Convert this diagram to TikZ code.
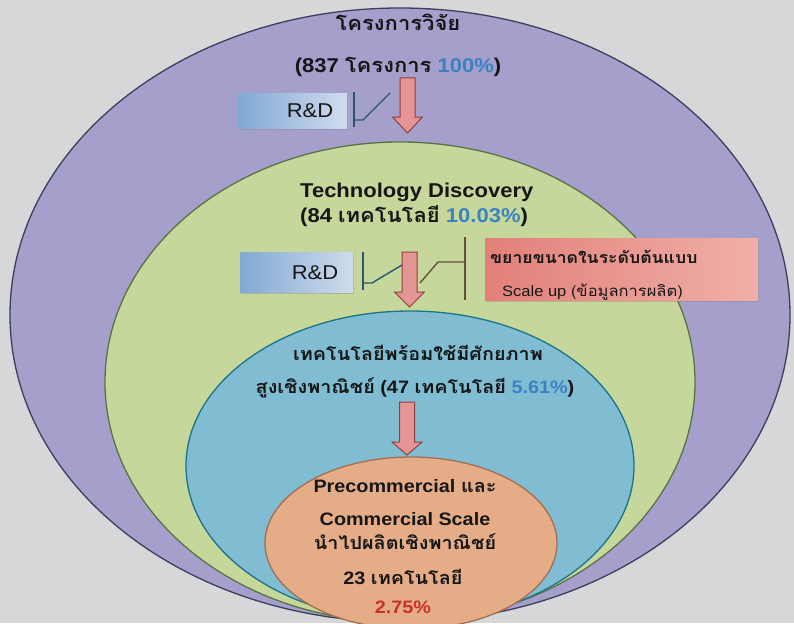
\documentclass[tikz,border=0pt]{standalone}
\usepackage{fontspec}
\setmainfont{Liberation Sans}[FakeStretch=1.1]
\newfontfamily\thaifont{Loma}[Script=Thai,FakeStretch=1.1]
\usetikzlibrary{shapes.geometric,shadows}
\newcommand\thx[1]{{\thaifont #1}}
\definecolor{bg}{RGB}{214,215,217}
\definecolor{purfill}{RGB}{165,159,204}
\definecolor{purline}{RGB}{62,62,92}
\definecolor{grnfill}{RGB}{198,215,155}
\definecolor{grnline}{RGB}{90,115,70}
\definecolor{blufill}{RGB}{128,188,210}
\definecolor{bluline}{RGB}{30,115,135}
\definecolor{orafill}{RGB}{229,172,136}
\definecolor{oraline}{RGB}{165,110,80}
\definecolor{pctblue}{RGB}{60,130,195}
\definecolor{pctred}{RGB}{200,50,40}
\definecolor{arrfill}{RGB}{228,150,150}
\definecolor{arrline}{RGB}{150,60,60}
\definecolor{rdleft}{RGB}{130,168,212}
\definecolor{rdright}{RGB}{208,220,236}
\definecolor{redleft}{RGB}{226,128,122}
\definecolor{redright}{RGB}{240,175,168}
\definecolor{swblue}{RGB}{45,85,115}
\definecolor{swbrown}{RGB}{105,78,60}
\definecolor{txt}{RGB}{22,22,22}
\newcommand\barrow[4]{\draw[blockarr] (#1-7.5,#2) -- (#1+7.5,#2) -- (#1+7.5,#3) -- (#1+15,#3) -- (#1,#4) -- (#1-15,#3) -- (#1-7.5,#3) -- cycle;}
\begin{document}
\begin{tikzpicture}[x=1pt,y=-1pt,
  ring/.style={ellipse, inner sep=0pt, line width=1.3pt},
  lbl/.style={text=txt, inner sep=0pt},
  big/.style={font=\bfseries\fontsize{20}{24}\selectfont},
  mid/.style={font=\bfseries\fontsize{18}{22}\selectfont},
  rdbox/.style={draw=none, left color=rdleft, right color=rdright, anchor=north west,
     inner ysep=0pt, align=right, text=txt, font=\fontsize{20}{24}\selectfont,
     drop shadow={shadow xshift=1pt, shadow yshift=-2pt, opacity=.35}},
  redbox/.style={draw=none, left color=redleft, right color=redright, anchor=north west,
     inner sep=0pt, drop shadow={shadow xshift=1pt, shadow yshift=-2pt, opacity=.35}},
  blockarr/.style={fill=arrfill, draw=arrline, line width=1pt, line join=miter},
  swa/.style={draw=swblue, line width=1.4pt},
  swb/.style={draw=swbrown, line width=1.4pt}]
\useasboundingbox[fill=bg] (0,0) rectangle (794,623);
\clip (0,0) rectangle (794,623);
% nested ellipses
\node[ring, fill=purfill, draw=purline, minimum width=780pt, minimum height=614pt] (lvl1) at (400,315) {};
\node[ring, fill=grnfill, draw=grnline, minimum width=590pt, minimum height=480pt] (lvl2) at (400,382) {};
\node[ring, fill=blufill, draw=bluline, minimum width=448pt, minimum height=310pt] (lvl3) at (410,466) {};
\node[ring, fill=orafill, draw=oraline, minimum width=292pt, minimum height=172pt] (lvl4) at (411,543) {};
% level 1 texts
\node[lbl, big, anchor=base] (t1) at (398,31) {\thx{โครงการวิจัย}};
\node[lbl, big, anchor=base] (t2) at (398,73) {(837 \thx{โครงการ} \textcolor{pctblue}{100\%})};
% R&D 1 and switch
\node[rdbox, minimum width=109pt, minimum height=35pt, text width=81pt, inner xsep=14pt] (rd1) at (238,93) {R\&D};
\coordinate (s1a) at (354,92); \coordinate (s1b) at (354,127);
\coordinate (s1c) at (354,120); \coordinate (s1d) at (363,120); \coordinate (s1e) at (390,93);
\draw[swa] (s1a) -- (s1b);
\draw[swa] (s1c) -- (s1d) -- (s1e);
\barrow{407.5}{78}{117}{133}
% level 2 texts
\node[lbl, big, anchor=base west] (t3) at (300,197) {Technology Discovery};
\node[lbl, big, anchor=base west] (t4) at (300,222) {(84 \thx{เทคโนโลยี} \textcolor{pctblue}{10.03\%})};
% R&D 2 and switches
\node[rdbox, minimum width=113pt, minimum height=40pt, text width=83pt, inner xsep=15pt] (rd2) at (240,252) {R\&D};
\coordinate (s2a) at (363,252); \coordinate (s2b) at (363,290);
\coordinate (s2c) at (363,283); \coordinate (s2d) at (372,283); \coordinate (s2e) at (402,265);
\draw[swa] (s2a) -- (s2b);
\draw[swa] (s2c) -- (s2d) -- (s2e);
\coordinate (s3a) at (420,283); \coordinate (s3b) at (438,262); \coordinate (s3c) at (465,262);
\coordinate (s3d) at (465,237); \coordinate (s3e) at (465,300);
\draw[swb] (s3a) -- (s3b) -- (s3c);
\draw[swb] (s3d) -- (s3e);
\barrow{409.5}{252}{292}{307}
% scale-up box
\node[redbox, minimum width=273pt, minimum height=62pt] (scale) at (485,238) {};
\node[lbl, anchor=base west, font=\bfseries\fontsize{16}{19}\selectfont] (u1) at (490,263) {\thx{ขยายขนาดในระดับต้นแบบ}};
\node[lbl, anchor=base west, font=\fontsize{15}{18}\selectfont] (u2) at (502,296) {Scale up \thx{(ข้อมูลการผลิต)}};
% level 3 texts
\node[lbl, mid, anchor=base] (t5) at (418,360) {\thx{เทคโนโลยีพร้อมใช้มีศักยภาพ}};
\node[lbl, mid, anchor=base] (t6) at (415,393) {\thx{สูงเชิงพาณิชย์} (47 \thx{เทคโนโลยี} \textcolor{pctblue}{5.61\%})};
\barrow{407}{402}{442}{455}
% level 4 texts
\node[lbl, mid, anchor=base] (t7) at (405,492) {Precommercial \thx{และ}};
\node[lbl, mid, anchor=base] (t8) at (405,525) {Commercial Scale};
\node[lbl, mid, anchor=base] (t9) at (405,549) {\thx{นำไปผลิตเชิงพาณิชย์}};
\node[lbl, mid, anchor=base] (t10) at (403,584) {23 \thx{เทคโนโลยี}};
\node[lbl, mid, anchor=base, text=pctred] (t11) at (403,613) {2.75\%};
\end{tikzpicture}
\end{document}
